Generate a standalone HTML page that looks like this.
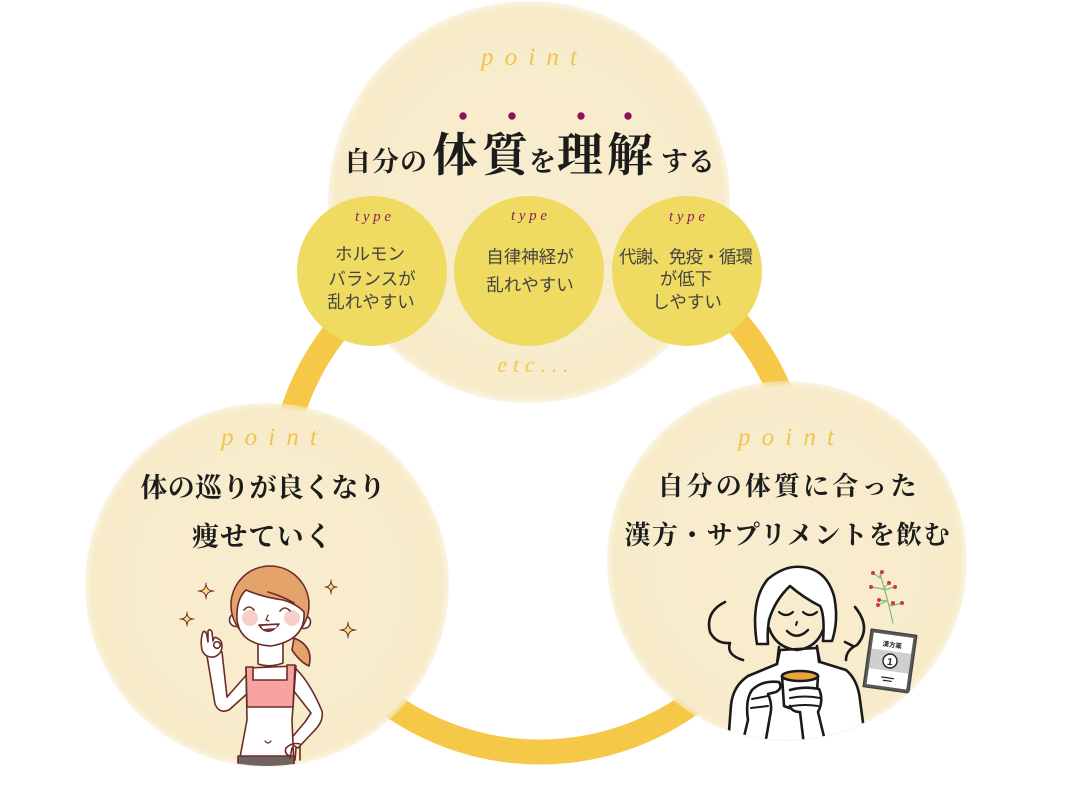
<!DOCTYPE html>
<html><head><meta charset="utf-8">
<style>
html,body{margin:0;padding:0;background:#fff;width:1070px;height:792px;overflow:hidden;}
svg{display:block;}
.mc{font-family:"Liberation Serif","Noto Serif CJK SC",serif;fill:#1c1c1c;font-weight:bold;}
.gt{font-family:"Liberation Sans","Noto Sans CJK JP",sans-serif;fill:#444;font-size:17.5px;}
.sc{font-family:"Liberation Serif",serif;font-style:italic;}
</style></head><body>
<svg width="1070" height="792" viewBox="0 0 1070 792" xmlns="http://www.w3.org/2000/svg">
<defs>
<radialGradient id="gc">
<stop offset="0" stop-color="#F8EDCF"/>
<stop offset="0.965" stop-color="#F7EBCA"/>
<stop offset="1" stop-color="#F7EBCA" stop-opacity="0.55"/>
</radialGradient>
<clipPath id="cl"><circle cx="267" cy="585" r="181"/></clipPath>
<clipPath id="cr"><circle cx="787" cy="561" r="179"/></clipPath>
</defs>

<!-- ring -->
<circle cx="540" cy="492" r="260" fill="none" stroke="#F5C947" stroke-width="25"/>

<!-- top circle -->
<circle cx="529" cy="202" r="201" fill="url(#gc)"/>
<text class="sc" x="529" y="65" text-anchor="middle" font-size="25" fill="#F2C44E" textLength="96" lengthAdjust="spacing">point</text>

<!-- emphasis dots -->
<g fill="#8A1457">
<circle cx="463" cy="116" r="3.7"/>
<circle cx="512" cy="116" r="3.7"/>
<circle cx="581" cy="116" r="3.7"/>
<circle cx="628" cy="116" r="3.7"/>
</g>
<text class="mc" y="171">
<tspan x="344" font-size="27">自</tspan><tspan x="372" font-size="27">分</tspan><tspan x="400" font-size="27">の</tspan><tspan x="432" font-size="46">体</tspan><tspan x="482" font-size="46">質</tspan><tspan x="529" font-size="27">を</tspan><tspan x="557" font-size="46">理</tspan><tspan x="607" font-size="46">解</tspan><tspan x="661" font-size="27">す</tspan><tspan x="688" font-size="27">る</tspan>
</text>

<!-- type circles -->
<circle cx="372" cy="271" r="75" fill="#EFDB61"/>
<circle cx="529" cy="271" r="75" fill="#EFDB61"/>
<circle cx="687" cy="271" r="75" fill="#EFDB61"/>
<g class="sc" font-size="15" fill="#8E1F5C" text-anchor="middle">
<text x="373" y="221" textLength="36" lengthAdjust="spacing">type</text>
<text x="529" y="220" textLength="36" lengthAdjust="spacing">type</text>
<text x="687" y="221" textLength="36" lengthAdjust="spacing">type</text>
</g>
<g class="gt" text-anchor="middle">
<text x="370" y="260">ホルモン</text>
<text x="372" y="285">バランスが</text>
<text x="371" y="308">乱れやすい</text>
<text x="530" y="263">自律神経が</text>
<text x="530" y="291">乱れやすい</text>
<text x="686" y="263" textLength="134" lengthAdjust="spacing">代謝、免疫・循環</text>
<text x="686" y="285">が低下</text>
<text x="687" y="308">しやすい</text>
</g>
<text class="sc" x="533" y="372" text-anchor="middle" font-size="22" fill="#F3C650" textLength="71" lengthAdjust="spacing">etc...</text>

<!-- left circle -->
<circle cx="267" cy="585" r="182" fill="url(#gc)"/>
<text class="sc" x="269" y="445" text-anchor="middle" font-size="25" fill="#F2C44E" textLength="96" lengthAdjust="spacing">point</text>
<text class="mc" x="263" y="497" text-anchor="middle" font-size="27" textLength="245" lengthAdjust="spacing">体の巡りが良くなり</text>
<text class="mc" x="262" y="546" text-anchor="middle" font-size="27" textLength="140" lengthAdjust="spacing">痩せていく</text>

<!-- left illustration -->
<g clip-path="url(#cl)" stroke="#6B2B27" stroke-width="1.6" stroke-linejoin="round" stroke-linecap="round">
  <g fill="#F7E07A" stroke-width="0.9">
    <path d="M206,583 Q206,591 214,591 Q206,591 206,599 Q206,591 198,591 Q206,591 206,583 Z"/>
    <path d="M187,612 Q187,619 194,619 Q187,619 187,626 Q187,619 180,619 Q187,619 187,612 Z"/>
    <path d="M331,580 Q331,587 337,587 Q331,587 331,594 Q331,587 325,587 Q331,587 331,580 Z"/>
    <path d="M348,622 Q348,630 356,630 Q348,630 348,638 Q348,630 340,630 Q348,630 348,622 Z"/>
  </g>
  <path d="M206,650 L215,704 Q219,714 229,710 L249,692 L249,672 L227,697 L222,652 Z" fill="#fff"/>
  <path d="M202,650 Q200,640 203,632 Q206,630 207,636 L208,642 L208,631 Q210,628 212,632 L213,641 Q214,636 217,638 Q222,640 222,646 Q222,654 214,657 Q205,658 202,650 Z" fill="#fff"/>
  <circle cx="217" cy="645" r="3.3" fill="#fff"/>
  <path d="M293,666 Q309,680 322,711 Q324,721 314,731 L298,748 L288,742 L305,722 L311,713 L293,690 Z" fill="#fff"/>
  <path d="M246,668 L296,666 L292,720 L294,768 L238,768 L247,720 Z" fill="#fff"/>
  <path d="M246,667 L253,667 L253,680 L287,680 L287,665 L295,665 L293,707 L247,707 Z" fill="#F7A4A1"/>
  <path d="M265,741 Q268,745 271,741" fill="none" stroke-width="1.2"/>
  <rect x="238" y="756" width="56" height="14" fill="#6F6461"/>
  <path d="M300,744 Q292,742 286,748 Q284,754 290,756 M292,748 L290,758 M296,748 L295,760 M300,746 L300,760" fill="none"/>
  <path d="M258,638 L258,664 Q270,668 283,663 L283,638 Z" fill="#fff"/>
  <path d="M294,638 Q314,646 309,666 Q300,662 292,650 Z" fill="#E3A36A"/>
  <circle cx="236" cy="620" r="6.5" fill="#fff"/>
  <circle cx="304" cy="622" r="6.5" fill="#fff"/>
  <circle cx="270" cy="605" r="39" fill="#E3A36A"/>
  <path d="M237,620 Q236,599 246,590 Q262,597 283,600 Q297,604 304,612 Q306,640 271,646 Q240,644 237,620 Z" fill="#fff"/>
  <path d="M268,592 Q282,596 294,603" fill="none"/>
  <circle cx="250" cy="618" r="8" fill="#F9CFC9" stroke="none"/>
  <circle cx="292" cy="618" r="8" fill="#F9CFC9" stroke="none"/>
  <path d="M244,610 Q249,604 254,610 M280,611 Q285,605 290,611" fill="none"/>
  <path d="M268,615 L266,620 L269,621" fill="none" stroke-width="1.2"/>
  <path d="M259,625 Q268,638 279,624 Z" fill="#8B2F2B"/>
  <path d="M261,626 L277,625 L276,628 L263,629 Z" fill="#fff" stroke="none"/>
</g>

<!-- right circle -->
<circle cx="787" cy="561" r="180" fill="url(#gc)"/>
<text class="sc" x="786" y="445" text-anchor="middle" font-size="25" fill="#F2C44E" textLength="96" lengthAdjust="spacing">point</text>
<text class="mc" x="787" y="495" text-anchor="middle" font-size="26" textLength="259" lengthAdjust="spacing">自分の体質に合った</text>
<text class="mc" x="787" y="544" text-anchor="middle" font-size="26" textLength="325" lengthAdjust="spacing">漢方・サプリメントを飲む</text>

<!-- right illustration -->
<g clip-path="url(#cr)" stroke="#1a1a1a" stroke-width="2.6" stroke-linejoin="round" stroke-linecap="round" fill="none">
  <g stroke="#7DBE73" stroke-width="1.2">
    <path d="M893,623 Q888,600 880,574"/>
    <path d="M886,601 L879,600 M887,601 L878,605 M890,605 L893,603 M891,606 L902,603"/>
    <path d="M883,589 L871,587 M883,589 L889,583 M884,590 L895,587"/>
    <path d="M880,578 L873,573 M880,577 L882,572"/>
  </g>
  <g fill="#D2364A" stroke="none">
    <circle cx="873" cy="573" r="2"/><circle cx="882" cy="572" r="2"/>
    <circle cx="871" cy="587" r="2"/><circle cx="889" cy="583" r="2"/>
    <circle cx="895" cy="587" r="2"/><circle cx="879" cy="600" r="2"/>
    <circle cx="893" cy="603" r="2"/><circle cx="902" cy="603" r="2"/>
    <circle cx="878" cy="605" r="2"/>
  </g>
  <g transform="rotate(8 890 661)" stroke-width="1.5">
    <rect x="867" y="632" width="46" height="58" fill="#5a5a5a" stroke="#444"/>
    <rect x="870" y="635" width="40" height="52" fill="#fff" stroke="none"/>
    <rect x="870" y="651" width="40" height="20" fill="#CFCFCF" stroke="none"/>
    <text x="890" y="647" text-anchor="middle" font-size="6.5" fill="#222" stroke="none" font-family="Liberation Sans, Noto Sans CJK JP, sans-serif" font-weight="bold">漢方薬</text>
    <circle cx="890" cy="661" r="7" fill="#fff" stroke="#222" stroke-width="1.4"/>
    <text x="890" y="665" text-anchor="middle" font-size="10" fill="#222" stroke="none" font-family="Liberation Sans, sans-serif" font-weight="bold">1</text>
    <path d="M884,678 L896,678 M886,681 L894,681" stroke="#222" stroke-width="1.2"/>
  </g>
  <path d="M725,602 Q705,612 710,632 Q716,644 730,643 Q726,655 743,660"/>
  <path d="M855,607 Q872,628 857,645 Q846,650 846,660 M845,642 L853,646"/>
  <path d="M728,745 L731,705 Q733,686 748,676 L777,664 L780,650 L817,648 L820,662 L846,670 Q858,680 860,700 L866,745 Z" fill="#fff"/>
  <path d="M757,644 Q750,600 768,579 Q785,565 802,567 Q826,569 834,596 Q839,620 832,641 L823,641 Q825,615 820,606 Q804,598 790,586 Q775,600 769,620 Q767,632 768,644 Z" fill="#fff"/>
  <path d="M769,628 Q776,648 797,650 Q816,648 823,630" />
  <path d="M779,647 L777,664 M817,646 L819,662" />
  <path d="M779,612 Q786,618 793,612 M803,612 Q810,618 817,612" stroke-width="2.2"/>
  <path d="M797,622 L796,625" stroke-width="2"/>
  <path d="M787,631 Q797,641 808,630" stroke-width="2.4"/>
  <path d="M782,676 L784,706 Q800,713 816,706 L818,676 Z" fill="#fff"/>
  <ellipse cx="800" cy="676" rx="18" ry="5" fill="#E9A43C"/>
  <path d="M742,745 L748,720 Q745,700 752,690 Q762,680 779,682 Q783,688 776,692 L768,694 Q773,705 770,716 L765,745" fill="#fff"/>
  <path d="M752,699 L768,696 M751,708 L768,706" stroke-width="2"/>
  <path d="M790,690 Q805,686 819,689 Q824,700 818,712 L826,745 L804,745 L800,712 Q792,712 790,706" fill="#fff"/>
  <path d="M790,698 Q805,695 820,698 M792,706 Q805,704 818,706" stroke-width="2"/>
</g>
</svg>
</body></html>
